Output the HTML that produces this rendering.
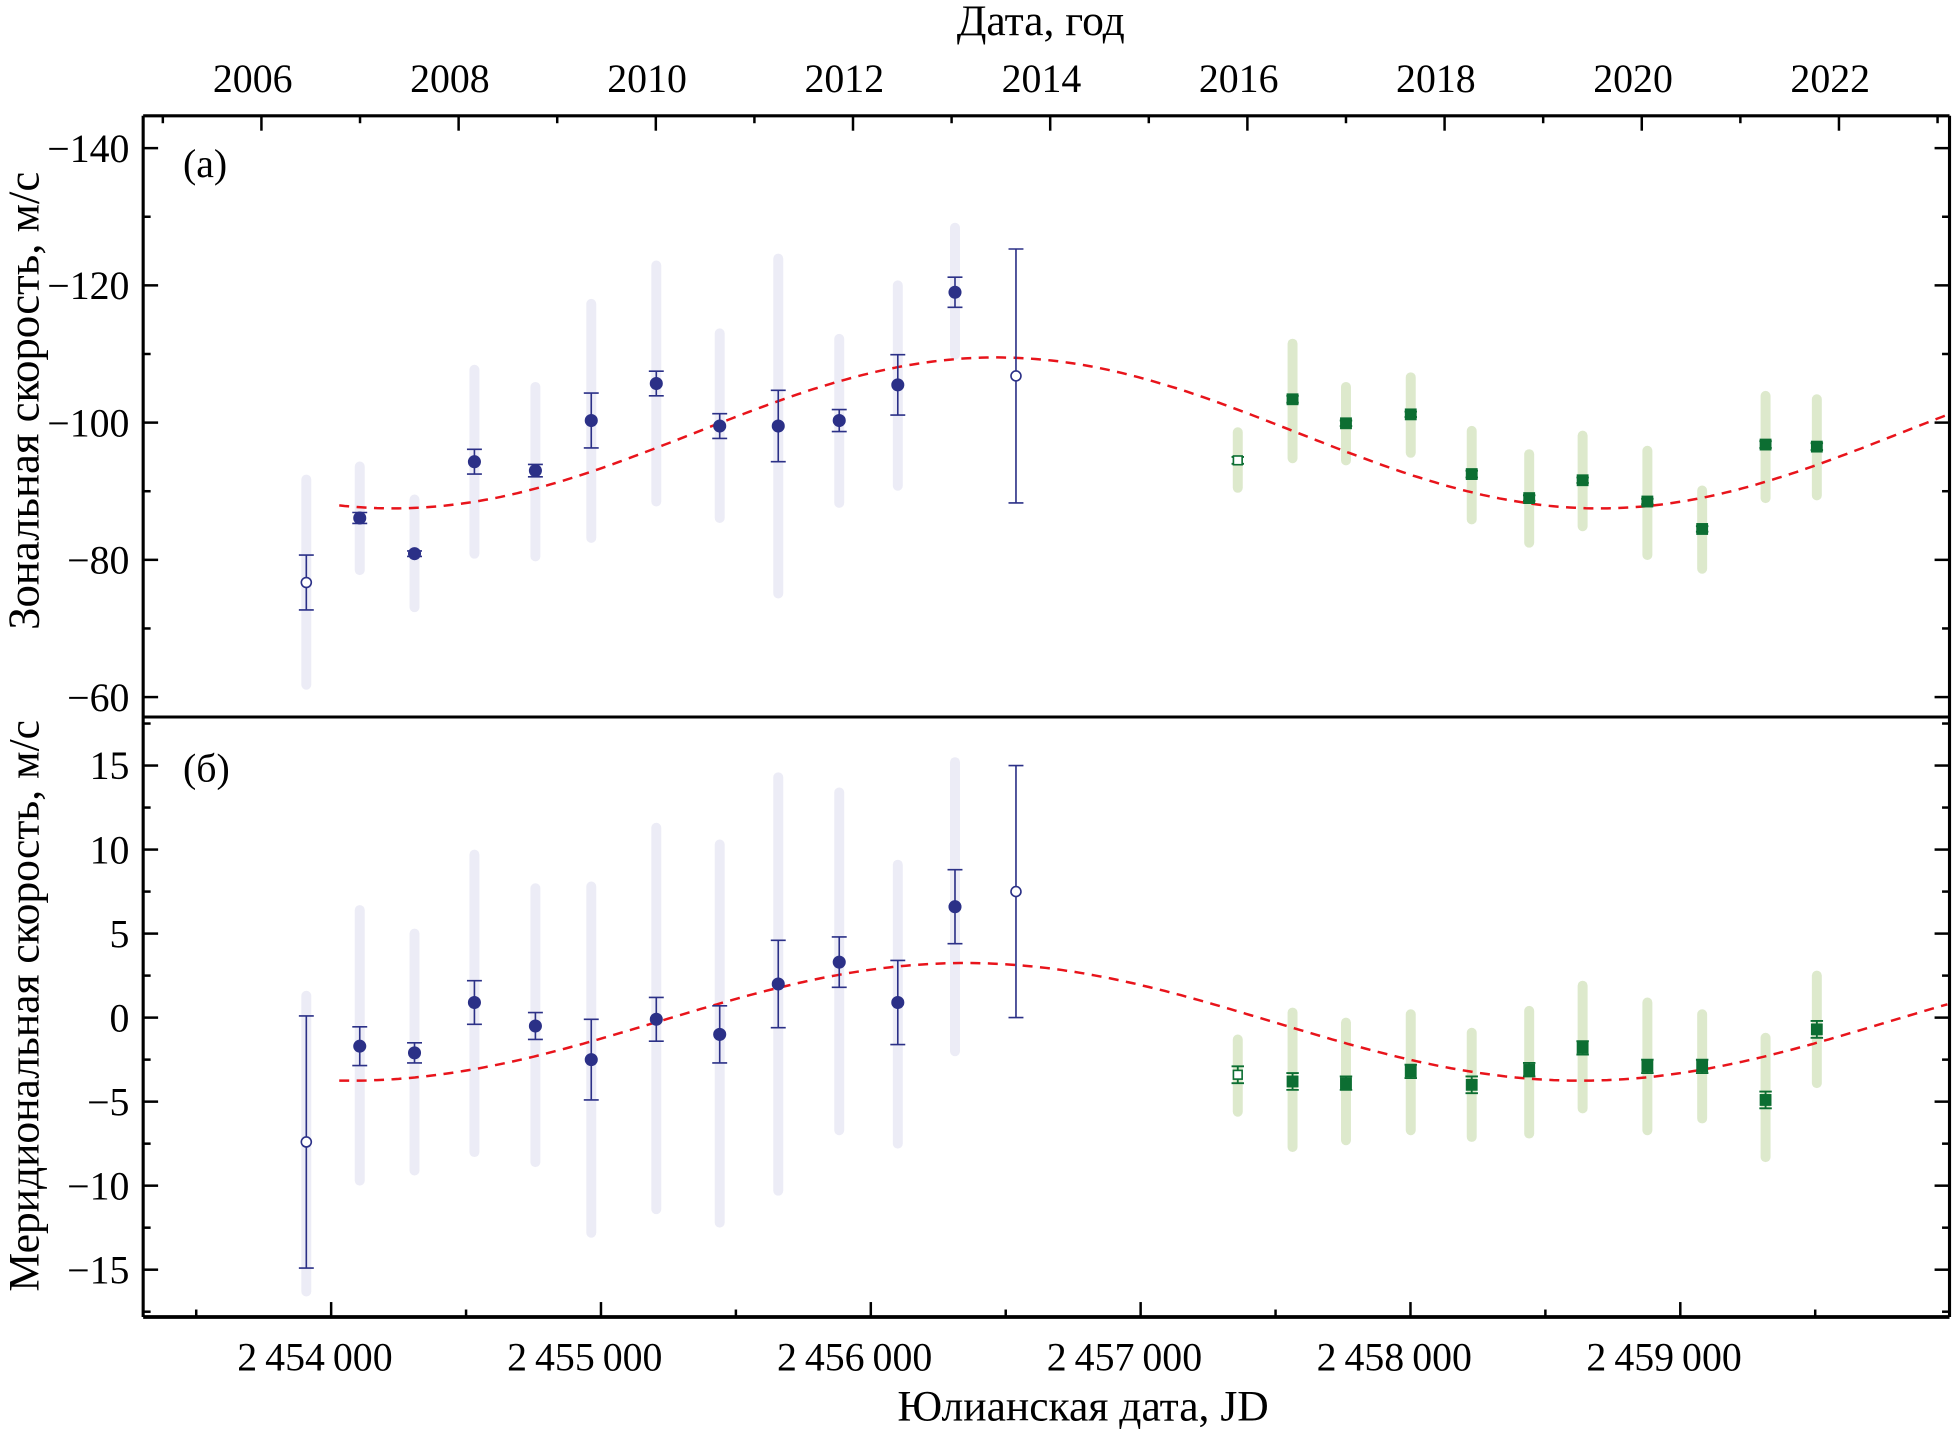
<!DOCTYPE html>
<html><head><meta charset="utf-8">
<style>html,body{margin:0;padding:0;background:#fff}svg{display:block}text{font-family:"Liberation Serif",serif;fill:#000}</style>
</head><body>
<svg id="chart" width="1952" height="1434" viewBox="0 0 1568 1152" preserveAspectRatio="none" xmlns="http://www.w3.org/2000/svg">
<g id="bands"></g><g id="curves"></g><g id="marks"></g><g id="axes"></g>
</svg>
<script>
// ---- data ----
const blueJD = [2453908,2454106,2454309,2454531,2454757,2454964,2455205,2455440,2455657,2455883,2456100,2456312,2456538];
const blueOpen = [1,0,0,0,0,0,0,0,0,0,0,0,1];
const zonalBlue = [-76.7,-86.1,-80.9,-94.3,-93.0,-100.3,-105.7,-99.5,-99.5,-100.3,-105.5,-119.0,-106.8];
const zonalBlueErr = [4.0,0.8,0.4,1.8,0.9,4.0,1.8,1.8,5.2,1.6,4.4,2.2,18.5];
const zonalBlueBandHi = [-91.7,-93.6,-88.8,-107.7,-105.2,-117.3,-122.9,-113.0,-123.9,-112.2,-120.0,-128.4,null];
const zonalBlueBandLo = [-61.8,-78.5,-73.1,-80.9,-80.5,-83.2,-88.5,-86.1,-75.1,-88.3,-90.8,-109.9,null];
const merBlue = [-7.4,-1.7,-2.1,0.9,-0.5,-2.5,-0.1,-1.0,2.0,3.3,0.9,6.6,7.5];
const merBlueErr = [7.5,1.15,0.6,1.3,0.8,2.4,1.3,1.7,2.6,1.5,2.5,2.2,7.5];
const merBlueBandHi = [1.3,6.4,5.0,9.7,7.7,7.8,11.3,10.3,14.3,13.4,9.1,15.2,null];
const merBlueBandLo = [-16.3,-9.7,-9.1,-8.0,-8.6,-12.8,-11.4,-12.2,-10.3,-6.7,-7.5,-2.0,null];

const greenJD = [2457360,2457563,2457761,2458001,2458227,2458440,2458638,2458878,2459081,2459316,2459506];
const greenOpen = [1,0,0,0,0,0,0,0,0,0,0];
const zonalGreen = [-94.5,-103.4,-99.9,-101.2,-92.5,-89.0,-91.6,-88.5,-84.5,-96.8,-96.5];
const zonalGreenBandHi = [-98.6,-111.5,-105.2,-106.6,-98.8,-95.4,-98.1,-95.9,-90.1,-103.9,-103.4];
const zonalGreenBandLo = [-90.5,-94.8,-94.5,-95.6,-85.9,-82.5,-84.9,-80.7,-78.7,-89.0,-89.4];
const merGreen = [-3.4,-3.8,-3.9,-3.2,-4.0,-3.1,-1.8,-2.9,-2.9,-4.9,-0.7];
const merGreenBandHi = [-1.3,0.3,-0.3,0.2,-0.9,0.4,1.9,0.9,0.2,-1.2,2.5];
const merGreenBandLo = [-5.6,-7.7,-7.3,-6.7,-7.1,-6.9,-5.4,-6.7,-6.0,-8.3,-3.9];
const greenErr = [0.5,0.5,0.4,0.4,0.5,0.4,0.4,0.4,0.4,0.5,0.5];

// fitted sine models: [mean, amplitude, peakJD, period]
const zonalFit = [-98.5, -11, 2456465, 4470];
const merFit = [-0.25, 3.5, 2456350, 4560];

const jdTicks = [2454000,2455000,2456000,2457000,2458000,2459000];
const jdTickLabels = ["2\u2009454\u2009000","2\u2009455\u2009000","2\u2009456\u2009000","2\u2009457\u2009000","2\u2009458\u2009000","2\u2009459\u2009000"];
const yearTicks = [2006,2008,2010,2012,2014,2016,2018,2020,2022];
const zonalTicks = [-140,-120,-100,-80,-60];
const merTicks = [15,10,5,0,-5,-10,-15];

// ---- scales ----
const L=115,R=1566,T=93,MID=576,B=1058;
const xJD = jd => 266 + (jd-2454000)*0.21675;
const xYear = y => 210 + (y-2006)*79.2;
const yZ = v => 119 + (v+140)*5.5125;
const yM = v => 615 + (15-v)*13.5;

const NS="http://www.w3.org/2000/svg";
function mk(parent,tag,attrs){const e=document.createElementNS(NS,tag);for(const k in attrs)e.setAttribute(k,attrs[k]);document.getElementById(parent).appendChild(e);return e;}
function fmt(v){return v<0?"\u2212"+Math.abs(v):String(v);}

function bands(jds,hi,lo,ys,color,name){
  for(let i=0;i<jds.length;i++){ if(hi[i]===null) continue;
    const e=mk('bands','line',{x1:xJD(jds[i]),x2:xJD(jds[i]),y1:ys(hi[i]),y2:ys(lo[i]),stroke:color,'stroke-width':8,'stroke-linecap':'round'});
    
    
  }
}
bands(blueJD,zonalBlueBandHi,zonalBlueBandLo,yZ,'#ececf6','zonal-blue-range');
bands(blueJD,merBlueBandHi,merBlueBandLo,yM,'#ececf6','meridional-blue-range');
bands(greenJD,zonalGreenBandHi,zonalGreenBandLo,yZ,'#dde9cc','zonal-green-range');
bands(greenJD,merGreenBandHi,merGreenBandLo,yM,'#dde9cc','meridional-green-range');

function curve(fit,ys,name){
  let d="";
  for(let jd=2454030;jd<=2460000;jd+=20){
    const v=fit[0]+fit[1]*Math.cos(2*Math.PI*(jd-fit[2])/fit[3]);
    d+=(d?"L":"M")+xJD(jd).toFixed(1)+","+ys(v).toFixed(1);
  }
  const e=mk('curves','path',{d:d,fill:'none',stroke:'#e8141b','stroke-width':2,'stroke-dasharray':'8,6'});
  
  
}
curve(zonalFit,yZ,'zonal-fit-curve');
curve(merFit,yM,'meridional-fit-curve');

function points(jds,vals,errs,open,ys,color,shape,name){
  for(let i=0;i<jds.length;i++){
    const x=xJD(jds[i]),y1=ys(vals[i]-errs[i]),y2=ys(vals[i]+errs[i]);
    const g=mk('marks','g',{});
    
    
    const cw=shape==='c'?6:5;
    const p=document.createElementNS(NS,'path');
    p.setAttribute('d',`M${x},${y1}L${x},${y2}M${x-cw},${y1}L${x+cw},${y1}M${x-cw},${y2}L${x+cw},${y2}`);
    p.setAttribute('stroke',color);p.setAttribute('stroke-width',shape==='c'?1.3:1.5);p.setAttribute('fill','none');
    g.appendChild(p);
    let m;
    const y=ys(vals[i]);
    if(shape==='c'){m=document.createElementNS(NS,'circle');m.setAttribute('cx',x);m.setAttribute('cy',y);m.setAttribute('r',open[i]?4:5);}
    else{m=document.createElementNS(NS,'rect');const s=open[i]?7:9;m.setAttribute('x',x-s/2);m.setAttribute('y',y-s/2);m.setAttribute('width',s);m.setAttribute('height',s);}
    m.setAttribute('fill',open[i]?'#fff':color);m.setAttribute('stroke',color);m.setAttribute('stroke-width',open[i]?1.3:0.5);
    g.appendChild(m);
  }
}
points(blueJD,zonalBlue,zonalBlueErr,blueOpen,yZ,'#2b3087','c','zonal-blue-point');
points(blueJD,merBlue,merBlueErr,blueOpen,yM,'#2b3087','c','meridional-blue-point');
points(greenJD,zonalGreen,greenErr,greenOpen,yZ,'#0c6e32','s','zonal-green-point');
points(greenJD,merGreen,greenErr,greenOpen,yM,'#0c6e32','s','meridional-green-point');

function line(x1,y1,x2,y2,w,name){const e=mk('axes','line',{x1,y1,x2,y2,stroke:'#000','stroke-width':w});return e;}
function text(x,y,s,size,anchor,name,extra){const e=mk('axes','text',Object.assign({x,y,'font-size':size,'text-anchor':anchor},extra||{}));e.textContent=s;return e;}
line(L,T,R,T,2.5,'top-axis-line');
line(L,B,R,B,3,'bottom-axis-line');
line(L,T,L,B,2.5,'left-axis-line');
line(R,T,R,B,2.5,'right-axis-line');
line(L,MID,R,MID,2.5,'panel-divider');
for(let yr=2005;yr<=2023;yr++){const x=xYear(yr);if(x<L||x>R)continue;const major=yr%2===0;line(x,T,x,T+(major?12:6),2,'year-tick');}
yearTicks.forEach(yr=>text(xYear(yr)-7,74,String(yr),32,'middle','year-tick-label'));
text(836,28,'Дата, год',35,'middle','top-axis-title');
for(let jd=2453500;jd<=2459500;jd+=500){const x=xJD(jd);const major=jd%1000===0;line(x,B,x,B-(major?12:6),2,'jd-tick');}
jdTicks.forEach((jd,i)=>text(xJD(jd)-13,1101,jdTickLabels[i],32,'middle','jd-tick-label'));
text(870,1141,'Юлианская дата, JD',35,'middle','x-axis-title');
for(let v=-150;v<=-50;v+=10){const y=yZ(v);if(y<T+2||y>MID-2)continue;const major=v%20===0;const l=major?12:6;line(L,y,L+l,y,2,'zonal-y-tick');line(R,y,R-l,y,2,'zonal-y-tick-right');}
zonalTicks.forEach(v=>text(104,yZ(v)+11,fmt(v),32,'end','zonal-y-tick-label'));
for(let v=-20;v<=20;v+=2.5){const y=yM(v);if(y<MID+2||y>B-2)continue;const major=v%5===0;const l=major?12:6;line(L,y,L+l,y,2,'meridional-y-tick');line(R,y,R-l,y,2,'meridional-y-tick-right');}
merTicks.forEach(v=>text(104,yM(v)+11,fmt(v),32,'end','meridional-y-tick-label'));
text(147,142,'(a)',32,'start','panel-a-label');
text(147,628,'(б)',32,'start','panel-b-label');
text(31,322,'Зональная скорость, м/с',36,'middle','zonal-y-axis-title',{transform:'rotate(-90 31 322)'});
text(31,808,'Меридиональная скорость, м/с',35,'middle','meridional-y-axis-title',{transform:'rotate(-90 31 808)'});
</script>
</body></html>
